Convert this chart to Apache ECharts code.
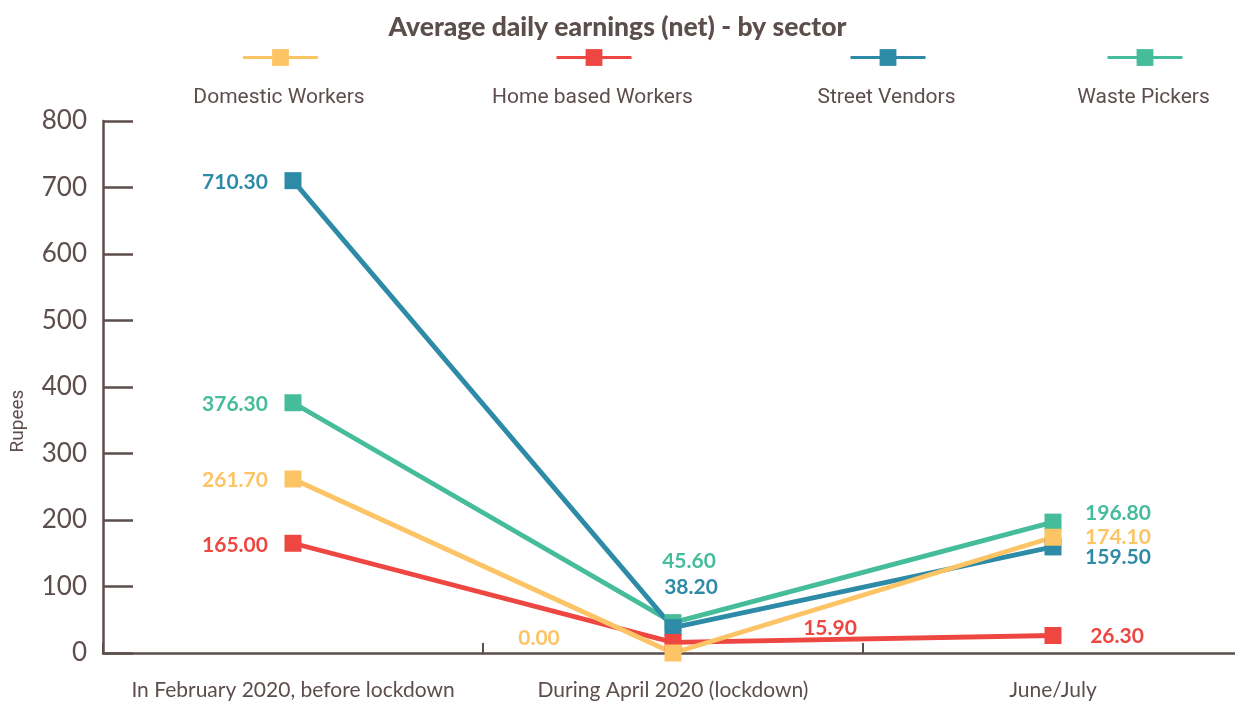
<!DOCTYPE html>
<html>
<head>
<meta charset="utf-8">
<script src="https://cdn.jsdelivr.net/npm/echarts@6/dist/echarts.min.js"></script>
<style>
html,body{margin:0;padding:0;background:#fff;}
#chart{width:1235px;height:702px;}
</style>
</head>
<body>
<div id="chart"></div>
<script>
// ---- data ----
const categories = ['In February 2020, before lockdown', 'During April 2020 (lockdown)', 'June/July'];
const seriesNames = ['Domestic Workers', 'Home based Workers', 'Street Vendors', 'Waste Pickers'];
const domesticWorkers = [261.7, 0.0, 174.1];
const homeBasedWorkers = [165.0, 15.9, 26.3];
const streetVendors = [710.3, 38.2, 159.5];
const wastePickers = [376.3, 45.6, 196.8];
const yTicks = [0, 100, 200, 300, 400, 500, 600, 700, 800];

// ---- styles ----
const textColor = '#5c4e4c';
const colors = {
  'Domestic Workers': '#fdc466',
  'Home based Workers': '#ee4640',
  'Street Vendors': '#2e8ba7',
  'Waste Pickers': '#45bc9a'
};
const valuesByName = {
  'Domestic Workers': domesticWorkers,
  'Home based Workers': homeBasedWorkers,
  'Street Vendors': streetVendors,
  'Waste Pickers': wastePickers
};
// label offsets (px, relative to point centre) per series per category
const labelOffsets = {
  'Domestic Workers': [[-58, 1], [-134, -15], [65, 0]],
  'Home based Workers': [[-58, 2], [157, -14], [64, 1]],
  'Street Vendors': [[-58, 2], [18, -40], [65, 10]],
  'Waste Pickers': [[-58, 1], [16, -61], [65, -9]]
};
const legendCenters = {
  'Domestic Workers': 279,
  'Home based Workers': 592.5,
  'Street Vendors': 886.5,
  'Waste Pickers': 1143.5
};
const drawOrder = ['Waste Pickers', 'Street Vendors', 'Home based Workers', 'Domestic Workers'];

const series = drawOrder.map(name => ({
  name: name,
  type: 'line',
  symbol: 'rect',
  symbolSize: 17,
  lineStyle: { width: 4.8, color: colors[name] },
  itemStyle: { color: colors[name] },
  emphasis: { disabled: true },
  data: valuesByName[name].map((v, i) => ({
    value: v,
    label: {
      show: true,
      position: 'inside',
      offset: labelOffsets[name][i],
      formatter: p => Number(p.value).toFixed(2),
      color: colors[name],
      fontFamily: 'Lato',
      fontWeight: 'bold',
      fontSize: 21
    }
  }))
}));

const legends = seriesNames.map(name => ({
  data: [name],
  left: legendCenters[name] - 37.5,
  top: 47,
  padding: 0,
  itemWidth: 75,
  itemHeight: 21,
  itemGap: 0,
  selectedMode: false,
  formatter: () => '',
  lineStyle: { width: 3 },
  textStyle: { fontSize: 1 }
}));

const legendTexts = seriesNames.map(name => ({
  type: 'text',
  x: legendCenters[name],
  y: 97.5,
  style: {
    text: name,
    fill: textColor,
    font: '21px Roboto',
    textAlign: 'center',
    textVerticalAlign: 'middle'
  }
}));

const chart = echarts.init(document.getElementById('chart'));
chart.setOption({
  animation: false,
  backgroundColor: '#ffffff',
  title: {
    text: 'Average daily earnings (net) - by sector',
    left: 'center',
    top: 9,
    textStyle: { fontFamily: 'Lato', fontWeight: 900, fontSize: 26.5, color: textColor }
  },
  legend: legends,
  graphic: legendTexts,
  grid: { left: 103, top: 121, right: -8, bottom: 49, containLabel: false, outerBoundsMode: 'none' },
  xAxis: {
    type: 'category',
    data: categories,
    boundaryGap: true,
    axisLine: { lineStyle: { color: textColor, width: 2.5 } },
    axisTick: { show: true, inside: true, length: 10, lineStyle: { color: textColor, width: 2 } },
    axisLabel: { margin: 27, color: textColor, fontFamily: 'Lato', fontSize: 21, interval: 0 },
    splitLine: { show: false }
  },
  yAxis: {
    type: 'value',
    min: yTicks[0],
    max: yTicks[yTicks.length - 1],
    interval: 100,
    name: 'Rupees',
    nameLocation: 'middle',
    nameRotate: 90,
    nameGap: 75,
    nameTextStyle: { color: textColor, fontFamily: 'Roboto', fontSize: 19, padding: [0, 68, 0, 0] },
    axisLine: { show: true, lineStyle: { color: textColor, width: 2.5 } },
    axisTick: { show: true, inside: true, length: 30, lineStyle: { color: textColor, width: 2.5 } },
    axisLabel: { margin: 16, color: textColor, fontFamily: 'Lato', fontSize: 26 },
    splitLine: { show: false }
  },
  series: series
});
</script>
</body>
</html>
